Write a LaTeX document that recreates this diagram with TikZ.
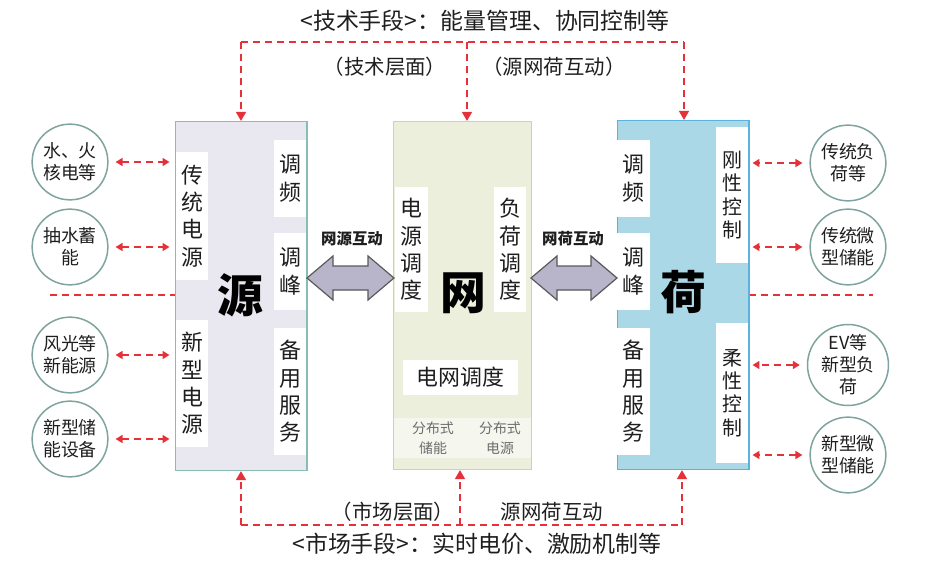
\documentclass[tikz,border=0pt]{standalone}
\usepackage{fontspec}
\setmainfont{Noto Sans CJK SC}
\usetikzlibrary{arrows.meta}
\definecolor{rd}{HTML}{E5323A}
\definecolor{srcfill}{HTML}{E9E8F0}
\definecolor{srcline}{HTML}{86BDB4}
\definecolor{gridfill}{HTML}{EBEFDC}
\definecolor{gridline}{HTML}{C8D6AC}
\definecolor{gridlow}{HTML}{F5F7EE}
\definecolor{loadfill}{HTML}{AAD8E6}
\definecolor{loadline}{HTML}{5BB2E0}
\definecolor{circline}{HTML}{7FA39E}
\definecolor{barrow}{HTML}{B8B4C9}
\definecolor{txt}{HTML}{1E1E1E}
\tikzset{
  rdash/.style={draw=rd, line width=1.6pt, dash pattern=on 7pt off 5pt},
  tip/.style={-{Triangle[width=10pt,length=9pt]}},
  dtip/.style={{Triangle[width=8pt,length=7pt]}-{Triangle[width=8pt,length=7pt]}},
  panel/.style={fill=white, draw=none, inner sep=0pt, align=center, text=txt,
    font=\fontsize{22}{27.5}\selectfont},
  spanel/.style={panel, font=\fontsize{20}{23.5}\selectfont},
  bubble/.style={circle, draw=circline, line width=1.5pt, fill=white, minimum size=76pt,
    inner sep=0pt, align=center, text=txt, font=\fontsize{18}{22}\selectfont},
  big/.style={text=black, font=\fontsize{46}{50}\selectfont\bfseries},
  lbl/.style={text=txt, font=\fontsize{23}{27}\selectfont},
  mlbl/.style={text=txt, font=\fontsize{20.5}{24}\selectfont},
  alabel/.style={text=txt, font=\fontsize{15.5}{18}\selectfont\bfseries},
  small/.style={text=gray!85!black, align=center, font=\fontsize{14}{20}\selectfont},
  blockarrow/.style={fill=barrow, draw=black!65, line width=1.2pt, line join=miter}
}
\begin{document}
\begin{tikzpicture}[x=1bp, y=-1bp]
\useasboundingbox (0,0) rectangle (931,570);
% main boxes
\node[draw=srcline, fill=srcfill, line width=1.5pt, minimum width=132pt, minimum height=350pt, inner sep=0pt] (src) at (241,296) {};
\node[draw=gridline, fill=gridfill, line width=1.5pt, minimum width=139pt, minimum height=349pt, inner sep=0pt] (grid) at (462.5,295.5) {};
\node[draw=loadline, fill=loadfill, line width=1.5pt, minimum width=132pt, minimum height=350pt, inner sep=0pt] (load) at (683,295) {};
% source panels
\node[panel, minimum width=33pt, minimum height=128pt] (s1) at (192,216) {传\\统\\电\\源};
\node[panel, minimum width=33pt, minimum height=127pt] (s2) at (192,383.5) {新\\型\\电\\源};
\node[panel, minimum width=33pt, minimum height=77pt] (s3) at (290,178.5) {调\\频};
\node[panel, minimum width=33pt, minimum height=77pt] (s4) at (290,271.5) {调\\峰};
\node[panel, minimum width=33pt, minimum height=127pt] (s5) at (290,391.5) {备\\用\\服\\务};
\node[big] (srcbig) at (240,295) {源};
% grid panels
\node[panel, minimum width=33pt, minimum height=125pt] (g1) at (411.5,249.5) {电\\源\\调\\度};
\node[panel, minimum width=33pt, minimum height=125pt] (g2) at (510,249.5) {负\\荷\\调\\度};
\node[panel, minimum width=115pt, minimum height=35pt] (g3) at (460.5,377.5) {电网调度};
\node[fill=gridlow, minimum width=137pt, minimum height=40pt, inner sep=0pt] (g4) at (462.5,438) {};
\node[small] (g5) at (433,438) {分布式\\储能};
\node[small] (g6) at (500,438) {分布式\\电源};
\node[big] (gridbig) at (463,293) {网};
% load panels
\node[panel, minimum width=33pt, minimum height=77pt] (l1) at (633.5,178.5) {调\\频};
\node[panel, minimum width=33pt, minimum height=77pt] (l2) at (633.5,271.5) {调\\峰};
\node[panel, minimum width=33pt, minimum height=127pt] (l3) at (633.5,391.5) {备\\用\\服\\务};
\node[spanel, minimum width=33pt, minimum height=136pt] (l4) at (732,195) {刚\\性\\控\\制};
\node[spanel, minimum width=33pt, minimum height=140pt] (l5) at (732,393) {柔\\性\\控\\制};
\node[big] (loadbig) at (683,292) {荷};
% bubbles
\node[bubble] (c1) at (70,162) {水、火\\核电等};
\node[bubble] (c2) at (70,247) {抽水蓄\\能};
\node[bubble] (c3) at (70,355) {风光等\\新能源};
\node[bubble] (c4) at (70,439) {新型储\\能设备};
\node[bubble] (d1) at (848,163) {传统负\\荷等};
\node[bubble] (d2) at (848,247) {传统微\\型储能};
\node[bubble] (d3) at (848,365) {EV等\\新型负\\荷};
\node[bubble] (d4) at (848,455) {新型微\\型储能};
% bubble connectors
\foreach \c in {c1,c2,c3,c4}
  \draw[rdash, dtip, shorten <=7pt, shorten >=5pt] (\c.east) -- (\c.east -| src.west);
\foreach \c in {d1,d2,d3,d4}
  \draw[rdash, dtip, shorten <=7pt, shorten >=3pt] (\c.west) -- (\c.west -| load.east);
% separators
\coordinate (sepL) at (50,295);
\coordinate (sepR) at (873,295);
\draw[rdash, line width=1.3pt] (sepL) -- (sepL -| src.west);
\draw[rdash, line width=1.3pt] (sepR -| load.east) -- (sepR);
% block arrows
\draw[blockarrow] (307,278) -- (333,256) -- (333,266) -- (368,266) -- (368,256) -- (394,278)
  -- (368,300) -- (368,290) -- (333,290) -- (333,300) -- cycle;
\draw[blockarrow] (531,278) -- (557,256) -- (557,266) -- (591,266) -- (591,256) -- (617,278)
  -- (591,300) -- (591,290) -- (557,290) -- (557,300) -- cycle;
\node[alabel] (a1) at (352,239) {网源互动};
\node[alabel] (a2) at (573,239) {网荷互动};
% top
\coordinate (tL) at (241,42);
\coordinate (tM) at (467,42);
\coordinate (tR) at (684,42);
\draw[rdash] (tL) -- (tR);
\draw[rdash, tip] (tL) -- (tL |- src.north);
\draw[rdash, tip] (tM) -- (tM |- grid.north);
\draw[rdash, tip] (tR) -- (tR |- load.north);
\node[lbl] (t1) at (485,21) {<技术手段>：能量管理、协同控制等};
\node[mlbl] (t2) at (385,67) {（技术层面）};
\node[mlbl] (t3) at (554,67) {（源网荷互动）};
% bottom
\coordinate (bL) at (241,525);
\coordinate (bM) at (460,525);
\coordinate (bR) at (682,525);
\draw[rdash] (bL) -- (bR);
\draw[rdash, tip] (bL) -- (bL |- src.south);
\draw[rdash, tip] (bM) -- (bM |- grid.south);
\draw[rdash, tip] (bR) -- (bR |- load.south);
\node[mlbl] (b1) at (393,512) {（市场层面）};
\node[mlbl] (b2) at (552,512) {源网荷互动};
\node[lbl] (b3) at (477,544) {<市场手段>：实时电价、激励机制等};
\end{tikzpicture}
\end{document}
